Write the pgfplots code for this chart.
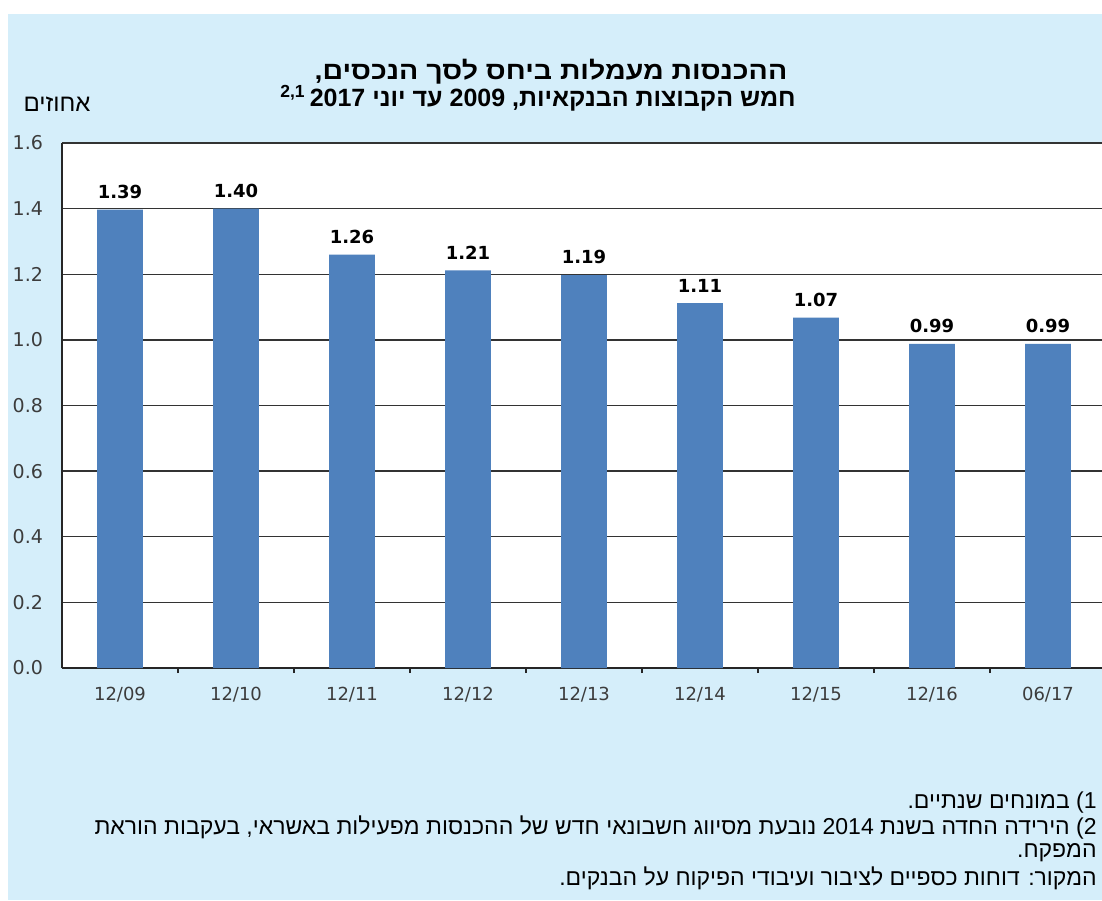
\documentclass[border=0pt]{standalone}
\usepackage{pgfplots}
\pgfplotsset{compat=1.18}
\usepackage{fontspec}
\setmainfont{DejaVu Sans}
\newfontfamily\hebfont[Script=Hebrew]{Liberation Sans}
\newfontfamily\hebtitleA[Script=Hebrew, FakeStretch=1.14]{Liberation Sans}
\newfontfamily\hebtitleB[Script=Hebrew, FakeStretch=1.0]{Liberation Sans}
\TeXXeTstate=1
\definecolor{bgblue}{RGB}{213,238,250}
\definecolor{barblue}{RGB}{79,129,189}
\definecolor{ticktext}{RGB}{60,60,60}
\begin{document}
\begin{tikzpicture}[x=1pt,y=1pt]
\clip (0,0) rectangle (551,450);
\fill[white] (0,0) rectangle (551,450);
\fill[bgblue] (4,0) rectangle (551,443);
\fill[white] (31,116) rectangle (553,378.5);
\begin{axis}[
  at={(31pt,116pt)}, anchor=south west,
  scale only axis, width=522pt, height=262.5pt,
  xmin=-0.5, xmax=8.5, ymin=0, ymax=1.6,
  axis x line*=bottom, axis y line*=left,
  axis line style={black!85, line width=0.8pt},
  ytick={0,0.2,0.4,0.6,0.8,1.0,1.2,1.4,1.6},
  ymajorgrids, grid style={black!80, line width=0.7pt},
  ytick style={draw=none},
  xtick={0,...,8},
  xticklabels={12/09,12/10,12/11,12/12,12/13,12/14,12/15,12/16,06/17},
  major x tick style={draw=none},
  minor xtick={0.5,1.5,2.5,3.5,4.5,5.5,6.5,7.5},
  minor tick length=2.5pt, tick align=inside,
  minor x tick style={black!85, line width=0.6pt},
  y tick label style={font=\fontsize{9.5}{10}\selectfont, text=ticktext, xshift=-6pt,
    /pgf/number format/.cd, fixed, fixed zerofill, precision=1, assume math mode=true},
  x tick label style={font=\fontsize{9}{10}\selectfont, text=ticktext, yshift=-2pt},
  ybar, bar width=22.8pt,
  point meta=explicit symbolic,
  nodes near coords,
  nodes near coords style={font=\bfseries\fontsize{9}{10}\selectfont, text=black, yshift=2pt},
]
\addplot[fill=barblue, draw=none] coordinates {
(0,1.397) [1.39] (1,1.40) [1.40] (2,1.26) [1.26] (3,1.212) [1.21] (4,1.197) [1.19]
(5,1.112) [1.11] (6,1.068) [1.07] (7,0.988) [0.99] (8,0.988) [0.99]};
\end{axis}
\node[font=\hebtitleA\bfseries\fontsize{12.5}{14}\selectfont, inner sep=0] at (275.5,414) {\beginR ההכנסות מעמלות ביחס לסך הנכסים,\endR};
\node[font=\hebtitleB\bfseries\fontsize{12.5}{14}\selectfont, inner sep=0] at (269,401) {\beginR חמש הקבוצות הבנקאיות, 2009 עד יוני 2017\,\textsuperscript{2,1}\endR};
\node[font=\hebfont\fontsize{12}{14}\selectfont, inner sep=0] at (28.5,398) {\beginR אחוזים\endR};
\node[font=\hebfont\fontsize{11.5}{13}\selectfont, inner sep=0, anchor=east] at (548.5,48.5) {\beginR\beginL 1)\endL{} במונחים שנתיים.\endR};
\node[font=\hebfont\fontsize{11.5}{13}\selectfont, inner sep=0, anchor=east] at (548.5,36) {\hbox to 501pt{\beginR\beginL 2)\endL{} הירידה החדה בשנת 2014 נובעת מסיווג חשבונאי חדש של ההכנסות מפעילות באשראי, בעקבות הוראת\endR}};
\node[font=\hebfont\fontsize{11.5}{13}\selectfont, inner sep=0, anchor=east] at (548.5,23.5) {\beginR המפקח.\endR};
\node[font=\hebfont\fontsize{11.5}{13}\selectfont, inner sep=0, anchor=east] at (548.5,11) {\beginR המקור: דוחות כספיים לציבור ועיבודי הפיקוח על הבנקים.\endR};
\end{tikzpicture}
\end{document}
